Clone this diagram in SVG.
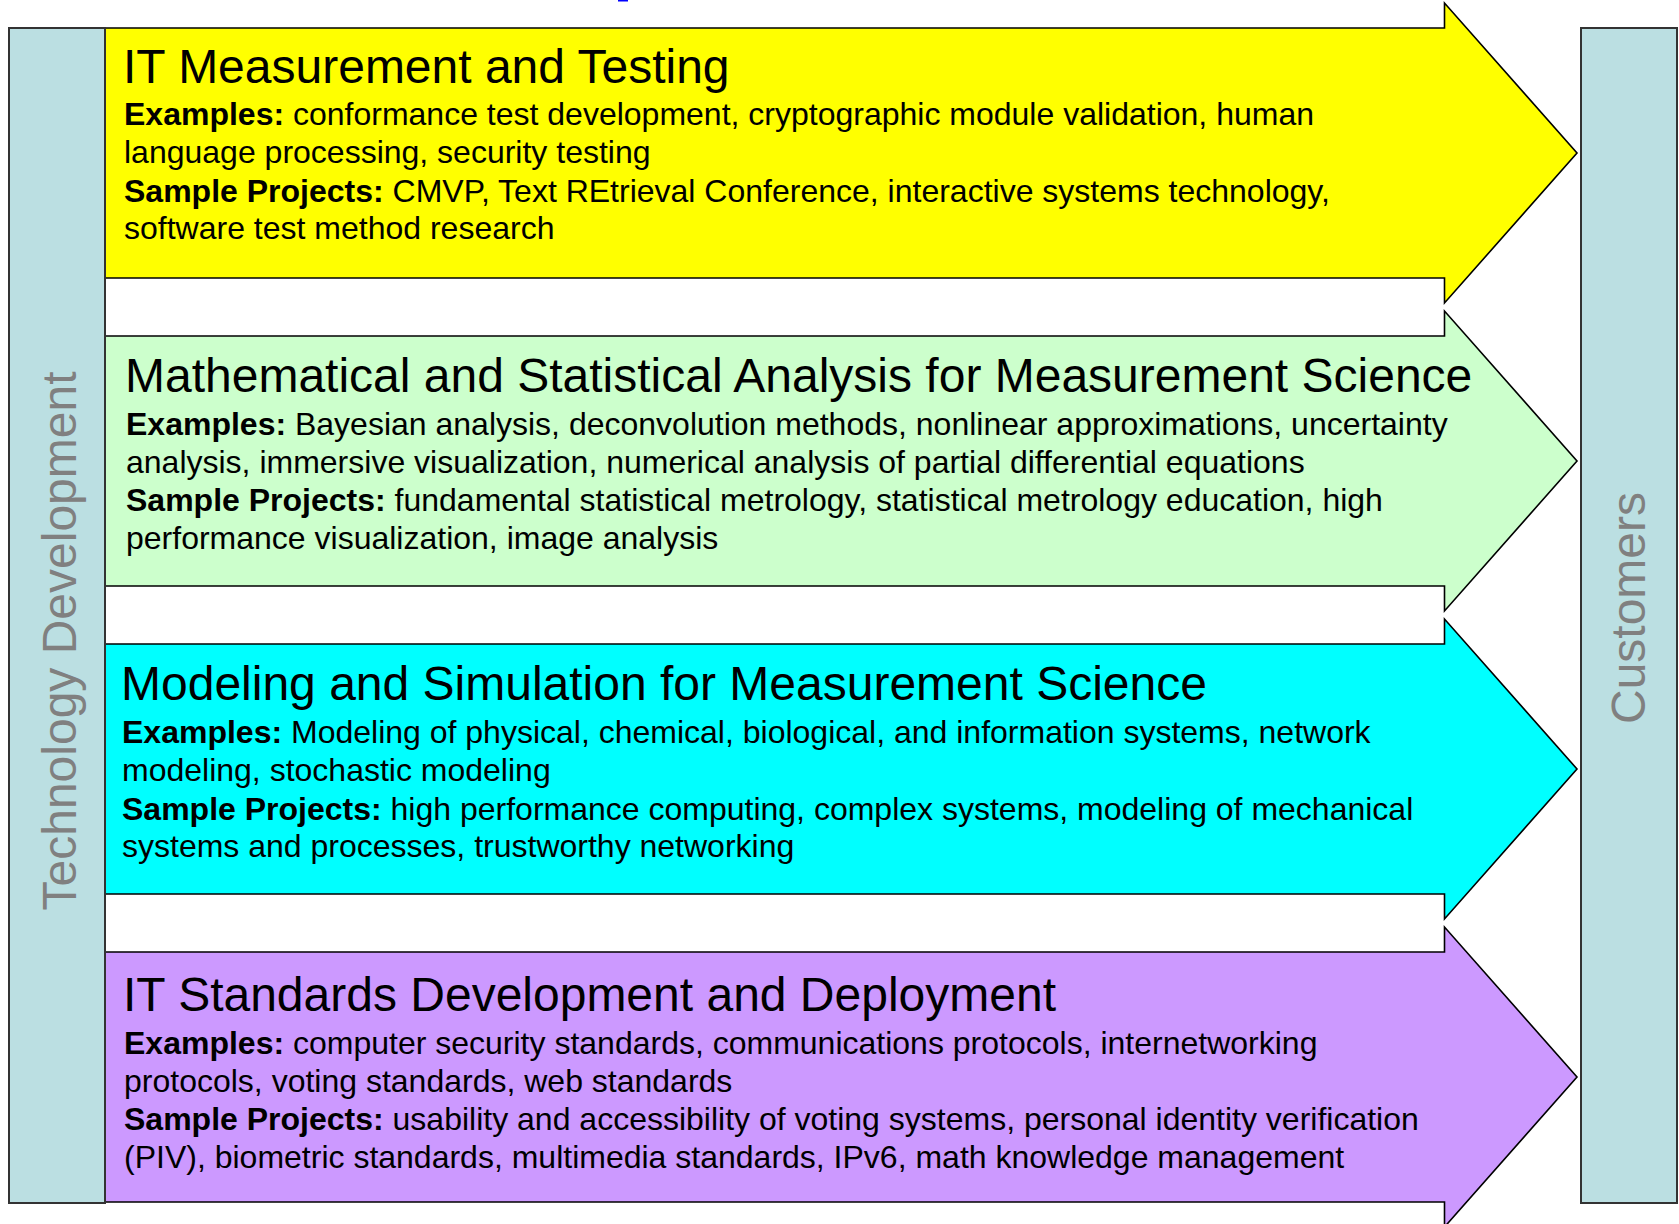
<svg xmlns="http://www.w3.org/2000/svg" width="1679" height="1224" viewBox="0 0 1679 1224">
<style>
  text { font-family: "Liberation Sans", Arial, sans-serif; fill: #000; }
  .title { font-size: 48px; }
  .body { font-size: 32px; }
  .b { font-weight: bold; }
  .side { font-size: 48px; fill: #808080; }
  .panel { fill: #BBDFE2; stroke: #333; stroke-width: 2; }
  .arrow { stroke: #000; stroke-width: 1.6; stroke-linejoin: miter; }
</style>
<defs>
  <path id="arrowShape" d="M105,28 H1444.5 V3 L1577,153 L1444.5,303 V278 H105 Z"/>
</defs>
<rect width="1679" height="1224" fill="#fff"/>
<rect x="618" y="0" width="10" height="1.5" fill="#0000ff"/>
<g id="connectors"></g>
<g id="arrow-it-measurement">
  <use href="#arrowShape" class="arrow" fill="#FFFF00"/>
  <text class="title" x="123" y="83">IT Measurement and Testing</text>
  <text class="body" x="124" y="125"><tspan class="b">Examples:</tspan> conformance test development, cryptographic module validation, human</text>
  <text class="body" x="124" y="163">language processing, security testing</text>
  <text class="body" x="124" y="201.5"><tspan class="b">Sample Projects:</tspan> CMVP, Text REtrieval Conference, interactive systems technology,</text>
  <text class="body" x="124" y="239">software test method research</text>
</g>
<g id="arrow-math-stat" transform="translate(0,308)">
  <use href="#arrowShape" class="arrow" fill="#CCFFCC"/>
  <text class="title" x="125" y="84">Mathematical and Statistical Analysis for Measurement Science</text>
  <text class="body" x="126" y="126.5"><tspan class="b">Examples:</tspan> Bayesian analysis, deconvolution methods, nonlinear approximations, uncertainty</text>
  <text class="body" x="126" y="164.5">analysis, immersive visualization, numerical analysis of partial differential equations</text>
  <text class="body" x="126" y="203"><tspan class="b">Sample Projects:</tspan> fundamental statistical metrology, statistical metrology education, high</text>
  <text class="body" x="126" y="240.5">performance visualization, image analysis</text>
</g>
<g id="arrow-modeling" transform="translate(0,616)">
  <use href="#arrowShape" class="arrow" fill="#00FFFF"/>
  <text class="title" x="121" y="84">Modeling and Simulation for Measurement Science</text>
  <text class="body" x="122" y="127"><tspan class="b">Examples:</tspan> Modeling of physical, chemical, biological, and information systems, network</text>
  <text class="body" x="122" y="165">modeling, stochastic modeling</text>
  <text class="body" x="122" y="203.5"><tspan class="b">Sample Projects:</tspan> high performance computing, complex systems, modeling of mechanical</text>
  <text class="body" x="122" y="241">systems and processes, trustworthy networking</text>
</g>
<g id="arrow-it-standards" transform="translate(0,924)">
  <use href="#arrowShape" class="arrow" fill="#CC99FF"/>
  <text class="title" x="123" y="87">IT Standards Development and Deployment</text>
  <text class="body" x="124" y="129.5"><tspan class="b">Examples:</tspan> computer security standards, communications protocols, internetworking</text>
  <text class="body" x="124" y="167.5">protocols, voting standards, web standards</text>
  <text class="body" x="124" y="206"><tspan class="b">Sample Projects:</tspan> usability and accessibility of voting systems, personal identity verification</text>
  <text class="body" x="124" y="243.5">(PIV), biometric standards, multimedia standards, IPv6, math knowledge management</text>
</g>
<g id="technology-development">
  <rect class="panel" x="9" y="28" width="96" height="1175"/>
  <text class="side" transform="translate(76,641) rotate(-90)" text-anchor="middle">Technology Development</text>
</g>
<g id="customers">
  <rect class="panel" x="1581" y="28" width="96" height="1175"/>
  <text class="side" transform="translate(1645,608) rotate(-90)" text-anchor="middle">Customers</text>
</g>
</svg>
